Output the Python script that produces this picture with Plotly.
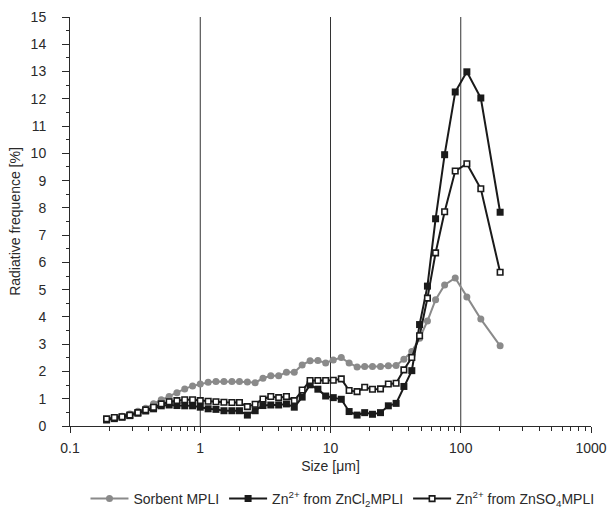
import plotly.graph_objects as go

# Particle size (µm)
size_um = [0.191, 0.219, 0.251, 0.288, 0.332, 0.381, 0.438, 0.502, 0.577, 0.662,
           0.760, 0.873, 1.00, 1.15, 1.32, 1.52, 1.75, 2.00, 2.30, 2.64,
           3.03, 3.48, 4.00, 4.59, 5.27, 6.06, 6.97, 8.00, 9.18, 10.5,
           12.1, 13.9, 16.0, 18.3, 21.0, 24.2, 27.8, 31.9, 36.6, 42.1,
           48.3, 55.5, 64.1, 75.2, 90.7, 111.4, 142.6, 200.6]

sorbent = [0.24, 0.30, 0.36, 0.44, 0.54, 0.65, 0.82, 0.96, 1.08, 1.22,
           1.36, 1.47, 1.54, 1.60, 1.63, 1.63, 1.63, 1.63, 1.61, 1.59,
           1.75, 1.84, 1.84, 1.97, 1.97, 2.24, 2.39, 2.40, 2.31, 2.42,
           2.51, 2.31, 2.16, 2.18, 2.18, 2.18, 2.21, 2.22, 2.45, 2.73,
           3.22, 3.85, 4.63, 5.17, 5.43, 4.73, 3.92, 2.94]

zncl2 = [0.22, 0.27, 0.32, 0.38, 0.47, 0.55, 0.63, 0.74, 0.77, 0.75,
         0.74, 0.74, 0.69, 0.63, 0.61, 0.56, 0.56, 0.56, 0.40, 0.56,
         0.75, 0.77, 0.77, 0.81, 0.69, 1.06, 1.51, 1.35, 1.10, 1.04,
         0.98, 0.53, 0.40, 0.49, 0.43, 0.49, 0.74, 0.83, 1.45, 2.03,
         3.72, 5.13, 7.60, 9.95, 12.25, 12.99, 12.03, 7.84]

znso4 = [0.26, 0.31, 0.34, 0.40, 0.49, 0.59, 0.69, 0.81, 0.89, 0.93,
         0.96, 0.96, 0.93, 0.91, 0.89, 0.87, 0.86, 0.86, 0.71, 0.80,
         0.99, 1.08, 1.04, 1.08, 0.93, 1.32, 1.67, 1.67, 1.67, 1.68,
         1.73, 1.30, 1.26, 1.42, 1.35, 1.36, 1.54, 1.57, 2.06, 2.51,
         3.31, 4.69, 6.35, 7.86, 9.35, 9.62, 8.70, 5.64]

series_names = ["Sorbent MPLI",
                "Zn<sup>2+</sup> from ZnCl<sub>2</sub>MPLI",
                "Zn<sup>2+</sup> from ZnSO<sub>4</sub>MPLI"]

x_tickvals = [0.1, 1, 10, 100, 1000]
x_ticktext = ["0.1", "1", "10", "100", "1000"]
grid_x = [1, 10, 100]

FONT = "Liberation Sans, Arial, sans-serif"
TXT = "#2a2a2a"
AX = "#2a2a2a"

fig = go.Figure()
fig.add_trace(go.Scatter(
    x=size_um, y=sorbent, name=series_names[0], mode="lines+markers",
    line=dict(color="#8a8a8a", width=2),
    marker=dict(symbol="circle", size=7, color="#8a8a8a")))
fig.add_trace(go.Scatter(
    x=size_um, y=zncl2, name=series_names[1], mode="lines+markers",
    line=dict(color="#1a1a1a", width=2),
    marker=dict(symbol="square", size=7, color="#1a1a1a")))
fig.add_trace(go.Scatter(
    x=size_um, y=znso4, name=series_names[2], mode="lines+markers",
    line=dict(color="#1a1a1a", width=2),
    marker=dict(symbol="square", size=5.5, color="white",
                line=dict(color="#1a1a1a", width=1.6))))

for gx in grid_x:
    fig.add_shape(type="line", xref="x", yref="paper", x0=gx, x1=gx, y0=0, y1=1,
                  line=dict(color="#333333", width=1), layer="below")

fig.update_xaxes(
    type="log", range=[-1, 3], automargin=False,
    tickvals=x_tickvals, ticktext=x_ticktext,
    showgrid=False, zeroline=False,
    showline=True, linecolor=AX, linewidth=1,
    ticks="outside", ticklen=6, tickcolor=AX,
    ticklabelstandoff=3,
    minor=dict(ticks="outside", ticklen=4, tickcolor=AX, dtick="D1", showgrid=False),
    tickfont=dict(family=FONT, size=14, color=TXT),
    title=dict(text="Size [\u03bcm]", font=dict(family=FONT, size=14, color=TXT), standoff=6),
)
fig.update_yaxes(
    range=[0, 15], dtick=1, automargin=False,
    showgrid=False, zeroline=False,
    showline=True, linecolor=AX, linewidth=1,
    ticks="outside", ticklen=7, tickcolor=AX,
    ticklabelstandoff=13,
    minor=dict(ticks="outside", ticklen=3, tickcolor=AX, dtick=0.5, showgrid=False),
    tickfont=dict(family=FONT, size=14, color=TXT),
    title=dict(text="Radiative frequence [%]", font=dict(family=FONT, size=14, color=TXT), standoff=6),
)

fig.update_layout(
    width=611, height=510,
    margin=dict(l=70, r=20, t=17, b=84),
    paper_bgcolor="white", plot_bgcolor="white",
    font=dict(family=FONT, size=14, color=TXT),
    hovermode=False,
    legend=dict(orientation="h", x=0.523, xanchor="center",
                yref="container", y=0.0216, yanchor="middle",
                font=dict(family=FONT, size=14, color=TXT),
                itemwidth=38, tracegroupgap=0),
    showlegend=True,
)

fig.write_html("out.html",
               config={"displayModeBar": False},
               post_script="document.body.style.margin='0';document.body.style.overflow='hidden';")
